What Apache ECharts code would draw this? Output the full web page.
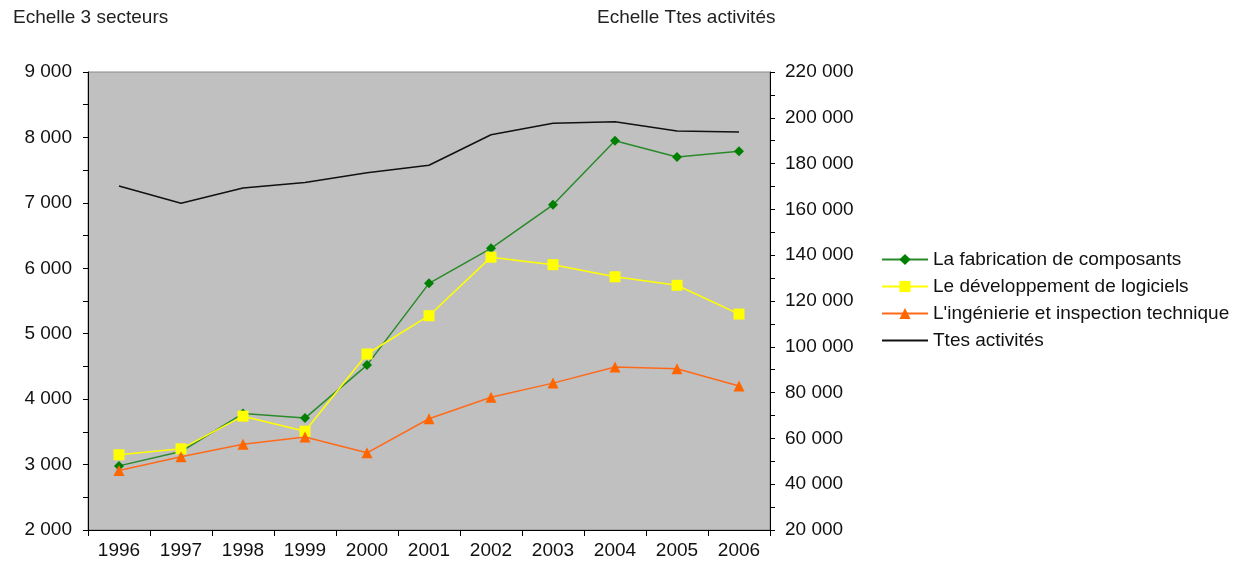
<!DOCTYPE html>
<html>
<head>
<meta charset="utf-8">
<script src="https://cdn.jsdelivr.net/npm/echarts@6/dist/echarts.min.js"></script>
<style>html,body{margin:0;padding:0;background:#fff}#c{width:1253px;height:563px}</style>
</head>
<body>
<div id="c"></div>
<script>
var years = ['1996','1997','1998','1999','2000','2001','2002','2003','2004','2005','2006'];
var composants = [2980, 3200, 3780, 3710, 4520, 5770, 6305, 6970, 7950, 7700, 7790];
var logiciels = [3150, 3240, 3740, 3510, 4690, 5275, 6170, 6055, 5870, 5740, 5300];
var ingenierie = [2910, 3120, 3310, 3420, 3180, 3700, 4030, 4245, 4490, 4465, 4200];
var ttes = [170200, 162700, 169300, 171700, 176000, 179300, 192600, 197600, 198300, 194200, 193800];
var names = ['La fabrication de composants', 'Le développement de logiciels', "L'ingénierie et inspection technique", 'Ttes activités'];

function fmt(v){ return String(v).replace(/\B(?=(\d{3})+(?!\d))/g, ' '); }
var FONT = 'Liberation Sans, Arial, sans-serif';
var FS = 19;
var chart = echarts.init(document.getElementById('c'), null, {renderer:'canvas'});
chart.setOption({
  animation: false,
  textStyle: {fontFamily: FONT},
  title: [
    {text: 'Echelle 3 secteurs', left: 8, top: 3, textStyle: {fontSize: FS, fontWeight: 'normal', color: '#222', fontFamily: FONT}},
    {text: 'Echelle Ttes activités', left: 592, top: 3, textStyle: {fontSize: FS, fontWeight: 'normal', color: '#222', fontFamily: FONT}}
  ],
  grid: {left: 88, right: 483, top: 72, bottom: 33, show: true, backgroundColor: '#c0c0c0', borderColor: '#888', borderWidth: 1},
  legend: {
    orient: 'vertical', left: 876, top: 245, itemWidth: 46, itemHeight: 14, itemGap: 8,
    textStyle: {fontSize: FS, color: '#111', fontFamily: FONT},
    data: [names[0], names[1], names[2], {name: names[3], itemStyle: {opacity: 0}}]
  },
  xAxis: {
    type: 'category', data: years, boundaryGap: true,
    axisLine: {lineStyle: {color: '#000', width: 1}},
    axisTick: {show: true, length: 6, lineStyle: {color: '#000'}},
    axisLabel: {color: '#111', fontSize: FS, margin: 11, fontFamily: FONT},
    splitLine: {show: false}
  },
  yAxis: [
    {
      type: 'value', min: 2000, max: 9000, interval: 1000, position: 'left',
      axisLine: {show: true, lineStyle: {color: '#000', width: 1}},
      axisTick: {show: true, length: 5, lineStyle: {color: '#000'}},
      minorTick: {show: true, splitNumber: 2, length: 5, lineStyle: {color: '#000'}},
      axisLabel: {color: '#111', fontSize: FS, margin: 16, formatter: fmt, fontFamily: FONT},
      splitLine: {show: false}
    },
    {
      type: 'value', min: 20000, max: 220000, interval: 20000, position: 'right',
      axisLine: {show: true, lineStyle: {color: '#000', width: 1}},
      axisTick: {show: true, length: 5, lineStyle: {color: '#000'}},
      minorTick: {show: true, splitNumber: 2, length: 5, lineStyle: {color: '#000'}},
      axisLabel: {color: '#111', fontSize: FS, margin: 15, formatter: fmt, fontFamily: FONT},
      splitLine: {show: false}
    }
  ],
  series: [
    {name: names[0], type: 'line', yAxisIndex: 0, data: composants, symbol: 'diamond', symbolSize: 10,
     itemStyle: {color: '#008000'}, lineStyle: {color: '#2a8a2a', width: 1.5}},
    {name: names[1], type: 'line', yAxisIndex: 0, data: logiciels, symbol: 'rect', symbolSize: 11,
     itemStyle: {color: '#ffff00'}, lineStyle: {color: '#ffff00', width: 1.5}},
    {name: names[2], type: 'line', yAxisIndex: 0, data: ingenierie, symbol: 'triangle', symbolSize: 11,
     itemStyle: {color: '#ff6600'}, lineStyle: {color: '#ff6a1a', width: 1.5}},
    {name: names[3], type: 'line', yAxisIndex: 1, data: ttes, symbol: 'none',
     itemStyle: {color: '#000'}, lineStyle: {color: '#111', width: 1.5}}
  ]
});
</script>
</body>
</html>
